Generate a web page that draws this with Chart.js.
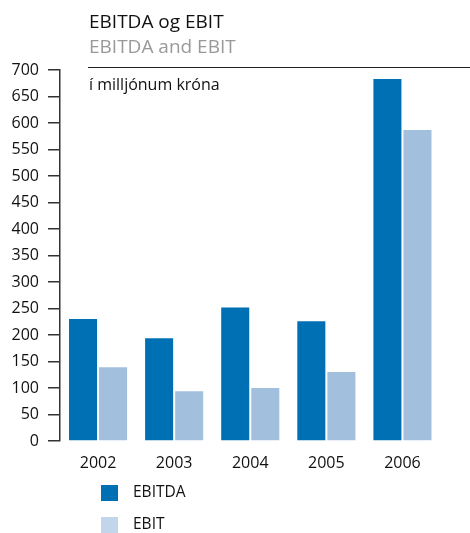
<!DOCTYPE html>
<html>
<head>
<meta charset="utf-8">
<script src="https://cdn.jsdelivr.net/npm/chart.js@4/dist/chart.umd.min.js"></script>
<style>
  html, body { margin: 0; padding: 0; background: #fff; }
  #wrap { position: relative; width: 470px; height: 533px; font-family: "Open Sans", "DejaVu Sans", sans-serif; }
  canvas { position: absolute; left: 0; top: 0; }
  .t1 { position: absolute; left: 89px; top: 8px; font-size: 19px; color: #111; white-space: nowrap; }
  .t2 { position: absolute; left: 89px; top: 33px; font-size: 19px; color: #999; white-space: nowrap; }
  .rule { position: absolute; left: 88px; top: 67px; width: 382px; height: 0; border-top: 1.5px solid #222; }
  .unit { position: absolute; left: 89px; top: 73px; font-size: 16px; color: #111; white-space: nowrap; }
</style>
</head>
<body>
<div id="wrap">
  <canvas id="ebitdaChart" width="470" height="533"></canvas>
  <div class="t1">EBITDA og EBIT</div>
  <div class="t2">EBITDA and EBIT</div>
  <div class="rule"></div>
  <div class="unit">í milljónum króna</div>
</div>
<script>
const years = ['2002', '2003', '2004', '2005', '2006'];
const ebitda = [230, 194, 252, 226, 683];
const ebit = [139, 94, 100, 130, 587];
const yTicks = [0, 50, 100, 150, 200, 250, 300, 350, 400, 450, 500, 550, 600, 650, 700];

const font = '"Open Sans", "DejaVu Sans", sans-serif';

// legend drawn as a vertical list under the x labels
const stackedLegend = {
    id: 'stackedLegend',
    afterDraw(chart) {
        const ctx = chart.ctx;
        const colors = ['#0070b5', '#c2d5ea'];
        chart.data.datasets.forEach((ds, i) => {
            const y = 485 + i * 32;
            ctx.fillStyle = colors[i];
            ctx.fillRect(101, y, 17, 16);
            ctx.fillStyle = '#111';
            ctx.font = '15.5px ' + font;
            ctx.textBaseline = 'middle';
            ctx.textAlign = 'left';
            ctx.fillText(ds.label, 133, y + 8);
        });
    }
};

const ctx = document.getElementById('ebitdaChart').getContext('2d');
new Chart(ctx, {
    type: 'bar',
    data: {
        labels: years,
        datasets: [{
            label: 'EBITDA',
            data: ebitda,
            backgroundColor: '#0070b5',
            categoryPercentage: 0.79,
            barPercentage: 0.933
        }, {
            label: 'EBIT',
            data: ebit,
            backgroundColor: '#a3bfde',
            categoryPercentage: 0.79,
            barPercentage: 0.933
        }]
    },
    options: {
        responsive: false,
        animation: false,
        layout: {
            padding: { top: 70, right: 29.5, bottom: 42, left: 0 }
        },
        plugins: {
            legend: { display: false },
            tooltip: { enabled: false }
        },
        scales: {
            x: {
                grid: { display: false, drawTicks: false },
                border: { display: false },
                ticks: {
                    color: '#111',
                    font: { family: font, size: 16 },
                    padding: 13
                },
                afterFit(scale) { scale.height = 50; }
            },
            y: {
                min: 0,
                max: 700,
                afterBuildTicks(scale) { scale.ticks = yTicks.map(v => ({ value: v })); },
                grid: {
                    drawOnChartArea: false,
                    drawTicks: true,
                    tickLength: 12,
                    tickColor: '#333',
                    lineWidth: 1.5
                },
                border: { display: true, color: '#333', width: 1.5 },
                ticks: {
                    color: '#111',
                    font: { family: font, size: 16 },
                    padding: 9
                },
                afterFit(scale) { scale.width = 60; }
            }
        }
    },
    plugins: [stackedLegend]
});
</script>
</body>
</html>
